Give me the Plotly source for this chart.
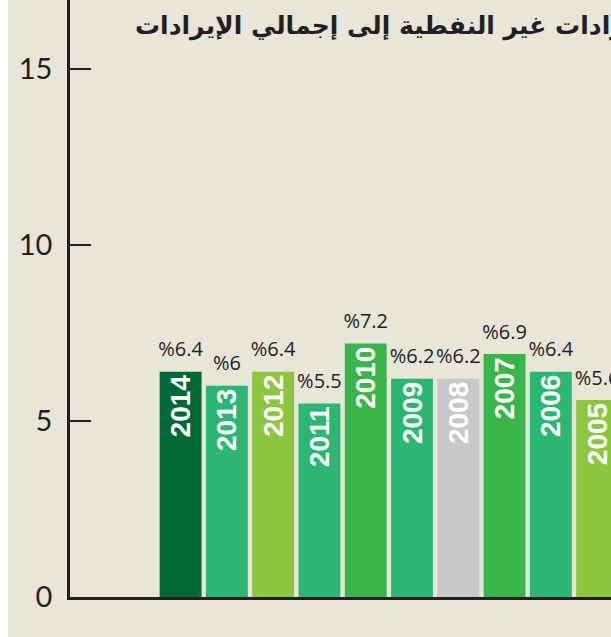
import plotly.graph_objects as go

years = ["2014", "2013", "2012", "2011", "2010", "2009", "2008", "2007", "2006", "2005"]
values = [6.4, 6.0, 6.4, 5.5, 7.2, 6.2, 6.2, 6.9, 6.4, 5.6]
value_labels = ["%6.4", "%6", "%6.4", "%5.5", "%7.2", "%6.2", "%6.2", "%6.9", "%6.4", "%5.6"]
colors = ["#006837", "#2bb673", "#8dc63f", "#2bb673", "#39b54a",
          "#2bb673", "#c8c8ca", "#39b54a", "#2bb673", "#8dc63f"]
y_ticks = [0, 5, 10, 15]
title = "الإيرادات غير النفطية إلى إجمالي الإيرادات"

xs = list(range(len(years)))
BG = "#e8e5d9"
INK = "#231f20"

fig = go.Figure()
fig.add_trace(go.Bar(
    x=xs, y=values, width=0.905,
    marker=dict(color=colors, line=dict(width=0)),
    text=years, textposition="inside", insidetextanchor="end",
    textangle=-90,
    textfont=dict(family="Liberation Sans Narrow, Arial Narrow, sans-serif",
                  size=28, color="white", weight="bold"),
    hoverinfo="skip",
))
fig.add_trace(go.Scatter(
    x=xs, y=values, mode="markers+text", text=value_labels,
    textposition="top center",
    marker=dict(size=15, color="rgba(0,0,0,0)"),
    textfont=dict(family="Open Sans, sans-serif", size=20, color=INK),
    hoverinfo="skip", cliponaxis=False,
))

W, H = 603, 637
ml, mb = 62, 40
pw = W - ml
ph = H - mb
fig.update_layout(
    width=W, height=H,
    margin=dict(l=ml, r=0, t=0, b=mb),
    paper_bgcolor=BG, plot_bgcolor=BG,
    showlegend=False,
    xaxis=dict(range=[-2.39, 9.3], showticklabels=False, showgrid=False,
               zeroline=False, showline=True, linecolor=INK, linewidth=2.5,
               ticks=""),
    yaxis=dict(range=[0, 16.96], tickvals=y_ticks, ticks="inside",
               ticklen=21, tickwidth=2, tickcolor=INK,
               showgrid=False, zeroline=False, showline=True,
               linecolor=INK, linewidth=2.5,
               tickfont=dict(family="Lato, sans-serif", size=29, color=INK),
               ticklabelstandoff=9),
    annotations=[dict(text=title, xref="paper", yref="paper",
                      x=(125 - ml) / pw, y=(ph - 26) / ph,
                      xanchor="left", yanchor="middle", showarrow=False,
                      font=dict(family="DejaVu Sans, sans-serif", size=25,
                                color=INK, weight="bold"))],
)
fig.write_html("out.html",
               post_script="document.body.style.margin='0px 0px 0px 8px';")
